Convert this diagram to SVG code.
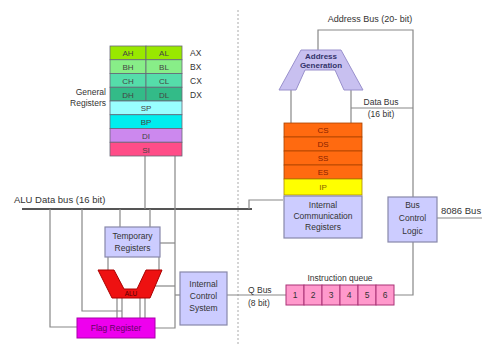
<svg xmlns="http://www.w3.org/2000/svg" width="482" height="345" viewBox="0 0 482 345">
<defs>
<style>
text{font-family:"Liberation Sans",Arial,sans-serif;font-size:8.5px;fill:#333}
.c{text-anchor:middle}
.r{text-anchor:end}
.ln{stroke:#888;stroke-width:1.2;fill:none}
.bus{stroke:#555;stroke-width:2;fill:none}
.box{fill:#ccccff;stroke:#8888aa;stroke-width:1.2}
.reg{stroke:#667;stroke-width:0.8}
.seg{fill:#ff6a10;stroke:#aa4400;stroke-width:0.8}
.rt{font-size:8px;fill:#444;text-anchor:middle}
</style>
</defs>
<rect width="482" height="345" fill="#fff"/>
<line x1="238" y1="10" x2="238" y2="345" stroke="#aaa" stroke-width="1" stroke-dasharray="2,2"/>

<g id="connectors">
<line class="bus" x1="22" y1="209" x2="252" y2="209"/>
<polyline class="ln" points="249,209 249,200 283,200"/>
<line class="ln" x1="145" y1="156" x2="145" y2="209"/>
<polyline class="ln" points="175,156 175,328 155,328"/>
<line class="ln" x1="120" y1="209" x2="120" y2="227"/>
<line class="ln" x1="150" y1="209" x2="150" y2="227"/>
<line class="ln" x1="160" y1="243" x2="175" y2="243"/>
<line class="ln" x1="108" y1="257" x2="108" y2="270"/>
<line class="ln" x1="159" y1="257" x2="159" y2="270"/>
<line class="ln" x1="155" y1="286" x2="175" y2="286"/>
<polyline class="ln" points="50,209 50,327 77,327"/>
<polyline class="ln" points="82,209 82,311 122,311"/>
<line class="ln" x1="117" y1="298" x2="117" y2="318"/>
<line class="ln" x1="122" y1="298" x2="122" y2="318"/>
<line class="ln" x1="140" y1="298" x2="140" y2="318"/>
<line class="ln" x1="145" y1="298" x2="145" y2="318"/>
<line class="ln" x1="175" y1="295" x2="180" y2="295"/>
<line class="ln" x1="227" y1="295" x2="286" y2="295"/>
<polyline class="ln" points="318,50 318,30 413,30 413,197"/>
<line class="ln" x1="291" y1="90" x2="291" y2="123"/>
<line class="ln" x1="351" y1="90" x2="351" y2="123"/>
<line class="ln" x1="351" y1="108" x2="413" y2="108"/>
<line class="ln" x1="437" y1="218" x2="482" y2="218"/>
<polyline class="ln" points="413,242 413,295 394,295"/>
</g>

<text x="14" y="203" style="font-size:9.5px">ALU Data bus (16 bit)</text>
<text x="370" y="22" class="c" style="font-size:9px">Address Bus (20- bit)</text>
<text x="381" y="105" class="c">Data Bus</text>
<text x="381" y="117" class="c">(16 bit)</text>
<text x="441" y="214" style="font-size:9.5px">8086 Bus</text>
<text x="248" y="293">Q Bus</text>
<text x="248" y="306">(8 bit)</text>
<text x="340" y="281" class="c">Instruction queue</text>

<g id="general-registers">
<rect x="110" y="46" width="36" height="13.75" fill="#99e800" class="reg"/>
<rect x="146" y="46" width="36" height="13.75" fill="#99e800" class="reg"/>
<rect x="110" y="59.75" width="36" height="13.75" fill="#88ee88" class="reg"/>
<rect x="146" y="59.75" width="36" height="13.75" fill="#88ee88" class="reg"/>
<rect x="110" y="73.5" width="36" height="13.75" fill="#55ddaa" class="reg"/>
<rect x="146" y="73.5" width="36" height="13.75" fill="#55ddaa" class="reg"/>
<rect x="110" y="87.25" width="36" height="13.75" fill="#33bb88" class="reg"/>
<rect x="146" y="87.25" width="36" height="13.75" fill="#33bb88" class="reg"/>
<rect x="110" y="101" width="72" height="13.75" fill="#99ffff" class="reg"/>
<rect x="110" y="114.75" width="72" height="13.75" fill="#00eeee" class="reg"/>
<rect x="110" y="128.5" width="72" height="13.75" fill="#cc88ee" class="reg"/>
<rect x="110" y="142.25" width="72" height="13.75" fill="#ff4d88" class="reg"/>
<text x="128" y="56" class="rt">AH</text><text x="164" y="56" class="rt">AL</text>
<text x="128" y="70" class="rt">BH</text><text x="164" y="70" class="rt">BL</text>
<text x="128" y="83.5" class="rt">CH</text><text x="164" y="83.5" class="rt">CL</text>
<text x="128" y="97.5" class="rt">DH</text><text x="164" y="97.5" class="rt">DL</text>
<text x="146" y="111" class="rt">SP</text>
<text x="146" y="125" class="rt">BP</text>
<text x="146" y="138.5" class="rt">DI</text>
<text x="146" y="152.5" class="rt">SI</text>
<text x="190" y="56">AX</text>
<text x="190" y="70">BX</text>
<text x="190" y="83.5">CX</text>
<text x="190" y="97.5">DX</text>
<text x="106" y="95" class="r">General</text>
<text x="106" y="106" class="r">Registers</text>
</g>

<g id="address-generation">
<polygon points="301,50 341,50 363,90 344,90 335,70 305,70 296,90 279,90" fill="#c8c0f0" stroke="#9990cc" stroke-width="1"/>
<text x="321" y="59" class="c" style="font-size:8px;font-weight:bold;fill:#33336a">Address</text>
<text x="321" y="68" class="c" style="font-size:8px;font-weight:bold;fill:#33336a">Generation</text>
</g>

<g id="segment-registers">
<rect x="284" y="123" width="78" height="14" class="seg"/>
<rect x="284" y="137" width="78" height="14" class="seg"/>
<rect x="284" y="151" width="78" height="14" class="seg"/>
<rect x="284" y="165" width="78" height="14" class="seg"/>
<rect x="284" y="179" width="78" height="16" fill="#ffff00" stroke="#aa8800" stroke-width="0.8"/>
<text x="323" y="133" class="rt" style="fill:#882200">CS</text>
<text x="323" y="147" class="rt" style="fill:#882200">DS</text>
<text x="323" y="161" class="rt" style="fill:#882200">SS</text>
<text x="323" y="175" class="rt" style="fill:#882200">ES</text>
<text x="323" y="190" class="rt" style="fill:#886600">IP</text>
</g>

<g id="internal-communication-registers">
<rect x="284" y="196" width="78" height="42" class="box"/>
<text x="323" y="208" class="c">Internal</text>
<text x="323" y="219" class="c">Communication</text>
<text x="323" y="230" class="c">Registers</text>
</g>

<g id="bus-control-logic">
<rect x="388" y="197" width="49" height="45" class="box"/>
<text x="412.5" y="208" class="c">Bus</text>
<text x="412.5" y="221" class="c">Control</text>
<text x="412.5" y="234" class="c">Logic</text>
</g>

<g id="instruction-queue">
<rect x="286" y="285" width="18" height="20" fill="#ff99cc" stroke="#aa3377" stroke-width="1"/>
<rect x="304" y="285" width="18" height="20" fill="#ff99cc" stroke="#aa3377" stroke-width="1"/>
<rect x="322" y="285" width="18" height="20" fill="#ff99cc" stroke="#aa3377" stroke-width="1"/>
<rect x="340" y="285" width="18" height="20" fill="#ff99cc" stroke="#aa3377" stroke-width="1"/>
<rect x="358" y="285" width="18" height="20" fill="#ff99cc" stroke="#aa3377" stroke-width="1"/>
<rect x="376" y="285" width="18" height="20" fill="#ff99cc" stroke="#aa3377" stroke-width="1"/>
<text x="295" y="298" class="c">1</text>
<text x="313" y="298" class="c">2</text>
<text x="331" y="298" class="c">3</text>
<text x="349" y="298" class="c">4</text>
<text x="367" y="298" class="c">5</text>
<text x="385" y="298" class="c">6</text>
</g>

<g id="temporary-registers">
<rect x="105" y="227" width="55" height="30" class="box"/>
<text x="132.5" y="239" class="c">Temporary</text>
<text x="132.5" y="251" class="c">Registers</text>
</g>

<g id="alu">
<polygon points="98,270 114,270 124,289 137,289 146,270 162,270 150,298 112,298" fill="#ee1111" stroke="#aa0000" stroke-width="1"/>
<text x="131" y="296" class="c" style="font-size:6.5px;fill:#550000">ALU</text>
</g>

<g id="flag-register">
<rect x="77" y="318" width="78" height="20" fill="#ee00ee" stroke="#aa00aa" stroke-width="1"/>
<text x="116" y="331" class="c" style="fill:#660066">Flag Register</text>
</g>

<g id="internal-control-system">
<rect x="180" y="272" width="47" height="53" class="box"/>
<text x="203.5" y="287" class="c">Internal</text>
<text x="203.5" y="299" class="c">Control</text>
<text x="203.5" y="311" class="c">System</text>
</g>
</svg>
